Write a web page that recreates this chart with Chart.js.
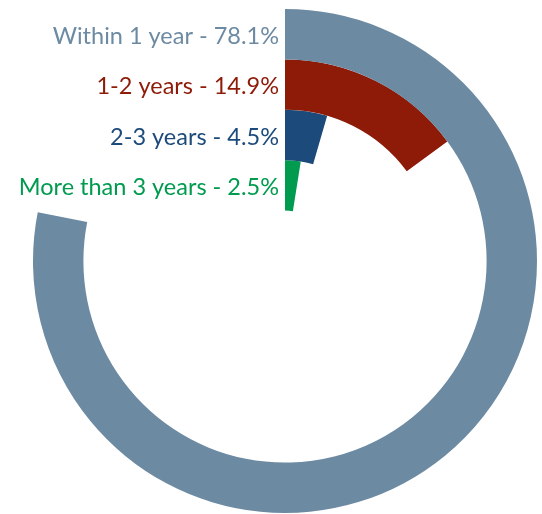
<!DOCTYPE html>
<html>
<head>
<meta charset="utf-8">
<script src="https://cdn.jsdelivr.net/npm/chart.js@4/dist/chart.umd.min.js"></script>
<style>
  html, body { margin: 0; padding: 0; background: #fff; }
  #wrap { width: 542px; height: 514px; }
</style>
</head>
<body>
<div id="wrap"><canvas id="c" width="542" height="514"></canvas></div>
<script>
// categories + shares (%), outer ring first
var labels = ['Within 1 year', '1-2 years', '2-3 years', 'More than 3 years'];
var values = [78.1, 14.9, 4.5, 2.5];
var colors = ['#6d8aa3', '#8e1a08', '#1c4a7b', '#009b4f'];

var datasets = [];
for (var i = 0; i < values.length; i++) {
  datasets.push({
    label: labels[i],
    data: [values[i], 100 - values[i]],
    backgroundColor: [colors[i], 'rgba(0,0,0,0)'],
    borderWidth: 0
  });
}

// ring labels, right-aligned just left of the 12 o'clock start
var ringLabels = {
  id: 'ringLabels',
  afterDatasetsDraw: function(chart) {
    var ctx = chart.ctx;
    ctx.save();
    ctx.font = '23.5px Lato, "Open Sans", sans-serif';
    ctx.textAlign = 'right';
    ctx.textBaseline = 'middle';
    for (var i = 0; i < values.length; i++) {
      var arc = chart.getDatasetMeta(i).data[0];
      var r = (arc.outerRadius + arc.innerRadius) / 2;
      ctx.fillStyle = colors[i];
      ctx.fillText(labels[i] + ' - ' + values[i].toFixed(1) + '%', arc.x - 6, arc.y - r + 2);
    }
    ctx.restore();
  }
};

new Chart(document.getElementById('c'), {
  type: 'doughnut',
  data: { labels: ['value', 'rest'], datasets: datasets },
  options: {
    responsive: false,
    animation: false,
    cutout: '20%',
    layout: { padding: { left: 33, right: 5, top: 9, bottom: 1 } },
    plugins: {
      legend: { display: false },
      tooltip: { enabled: false }
    }
  },
  plugins: [ringLabels]
});
</script>
</body>
</html>
